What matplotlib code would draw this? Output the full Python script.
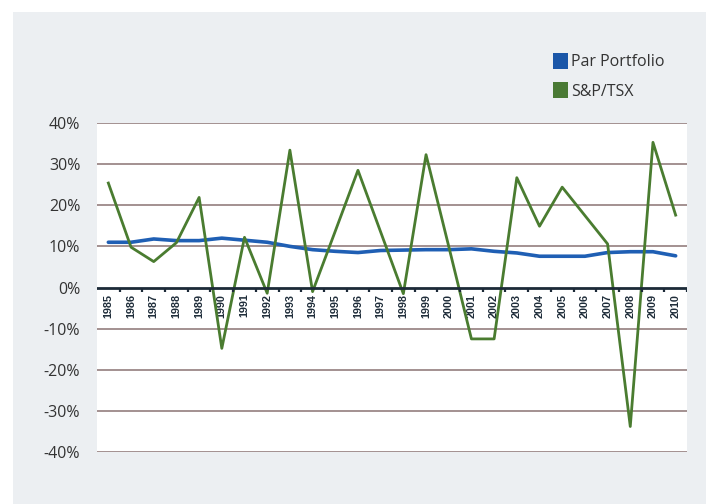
import matplotlib
matplotlib.use("Agg")
import matplotlib.pyplot as plt
from matplotlib.patches import Rectangle, Patch

years = [str(y) for y in range(1985, 2011)]
par_portfolio = [11.0, 11.0, 11.8, 11.4, 11.4, 12.0, 11.5, 11.0, 10.0, 9.2, 8.8, 8.5, 9.0,
                 9.1, 9.2, 9.2, 9.4, 8.8, 8.4, 7.6, 7.6, 7.6, 8.5, 8.7, 8.7, 7.7]
sp_tsx = [25.4, 9.8, 6.3, 10.9, 21.9, -14.8, 12.2, -1.4, 33.4, -1.0, 13.7, 28.5, 13.5,
          -1.5, 32.3, 10.0, -12.5, -12.5, 26.7, 14.9, 24.4, 17.5, 10.6, -33.8, 35.3, 17.6]
yticks = [40, 30, 20, 10, 0, -10, -20, -30, -40]

W, H = 710, 504
fig = plt.figure(figsize=(W / 100, H / 100), dpi=100, facecolor="white")
fig.patches.append(Rectangle((13 / W, 0), (706 - 13) / W, (H - 12) / H,
                             transform=fig.transFigure, facecolor="#eceff2",
                             edgecolor="none", zorder=-10))

ax = fig.add_axes([97 / W, (H - 452) / H, (687 - 97) / W, (452 - 123) / H])
ax.set_facecolor("white")
x = list(range(len(years)))
ax.set_xlim(-0.5, len(years) - 0.5)
ax.set_ylim(-40, 40)

for v in yticks:
    if v != 0:
        ax.axhline(v, color="#9c8888", lw=1.3, zorder=1)

for i, lab in enumerate(years):
    ax.text(i, -1.5, lab, rotation=90, ha="center", va="top", fontsize=7.8,
            fontweight="bold", color="#1f2d3a", family="Liberation Sans", zorder=2)

ax.plot(x, par_portfolio, color="#1f5fb4", lw=2.6, zorder=3, solid_capstyle="round")
ax.plot(x, sp_tsx, color="#4a7c30", lw=2.0, zorder=4)

ax.axhline(0, color="#1c2a38", lw=2.0, zorder=5)
for i in range(len(years)):
    ax.plot([i + 0.5, i + 0.5], [0, -1.0], color="#1c2a38", lw=1.6, zorder=5,
            solid_capstyle="butt")

ax.set_xticks([])
ax.set_yticks(yticks)
ax.set_yticklabels([f"{v}%" for v in yticks], fontsize=11.5, color="#333333",
                   family="Open Sans")
ax.tick_params(axis="y", length=0, pad=12)
for s in ax.spines.values():
    s.set_visible(False)

handles = [Patch(facecolor="#1a56a8", edgecolor="none", label="Par Portfolio"),
           Patch(facecolor="#4a7a35", edgecolor="none", label="S&P/TSX")]
fig.legend(handles=handles, loc="upper left", bbox_to_anchor=(539 / W, 1 - 39 / H),
           frameon=False, handlelength=0.9, handleheight=1.1, handletextpad=0.2,
           labelspacing=0.75, prop={"family": "Open Sans", "size": 11.5},
           labelcolor="#333333")

fig.savefig("out.png", dpi=100, facecolor=fig.get_facecolor())
